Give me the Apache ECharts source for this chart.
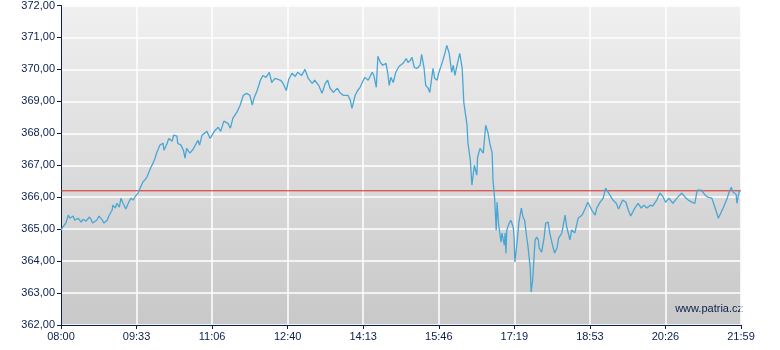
<!DOCTYPE html>
<html>
<head>
<meta charset="utf-8">
<script src="https://cdn.jsdelivr.net/npm/echarts@6/dist/echarts.min.js"></script>
<style>html,body{margin:0;padding:0;background:#fff}#c{width:780px;height:350px}</style>
</head>
<body>
<div id="c"></div>
<script>
// minutes after 08:00
var minutes = [0,2,6,9,11,15,17,21,25,27,31,35,37,39,44,47,51,53,57,59,63,64,67,69,72,74,76,80,83,86,89,91,95,97,101,104,106,110,114,116,118,122,126,127,131,133,137,139,143,144,148,151,153,155,159,163,165,169,171,174,180,184,186,190,194,197,201,206,209,212,217,221,225,229,233,236,238,242,246,249,253,257,260,264,271,274,278,281,285,289,292,297,301,305,310,313,318,322,326,329,332,336,341,344,
348,350,354,357,359,363,366,369,373,375,379,381,384,386,389,391,394,397,401,403,405,407,410,413,417,422,426,428,431,433,436,439,443,445,448,450,453,455,459,461,464,466,470,473,476,479,482,484,486,490,492,495,497,501,502,505,507,510,513,514,517,519,521,524,527,529,532,533,535,537,538,540,543,544,547,548,549,550,553,555,558,559,560,563,565,568,570,572,575,576,579,580,582,584,585,587,589,590,593,596,598,601,603,607,609,612,614,618,622,624,628,630,634,638,643,647,650,655,659,661,665,669,672,675,677,681,685,688,693,697,700,703,708,712,716,719,723,727,730,735,739,743,746,750,755,760,766,770,774,779,782,785,790,795,798,803,806,808,811,814,817,822,824,827,829,833,834,837,838];
var prices = [364.97,365.06,365.19,365.44,365.34,365.41,365.28,365.34,365.22,365.31,365.25,365.38,365.31,365.19,365.28,365.41,365.28,365.19,365.28,365.41,365.59,365.75,365.66,365.81,365.69,365.97,365.84,365.63,365.81,365.97,365.91,366.00,366.13,366.25,366.47,366.56,366.63,366.88,367.09,367.22,367.38,367.63,367.69,367.47,367.69,367.84,367.75,367.94,367.91,367.69,367.63,367.47,367.22,367.53,367.38,367.50,367.56,367.78,367.63,367.94,368.06,367.84,367.88,368.09,368.19,368.06,368.38,368.31,368.16,368.47,368.66,368.88,369.19,369.25,369.19,368.88,369.09,369.34,369.66,369.81,369.75,369.91,369.59,369.72,369.66,369.56,369.34,369.69,369.88,369.78,369.91,369.81,370.00,369.72,369.56,369.66,369.50,369.25,369.56,369.66,369.41,369.28,369.41,369.28,
369.19,369.13,369.19,369.03,368.78,369.19,369.34,369.44,369.66,369.75,369.66,369.72,369.91,369.81,369.44,370.41,370.22,370.13,370.19,369.91,369.50,369.75,369.59,369.91,370.09,370.19,370.34,370.22,370.28,370.38,370.06,370.03,370.13,370.47,370.03,369.50,369.41,369.28,370.03,369.72,369.66,369.88,370.19,370.44,370.75,370.50,369.91,370.13,369.81,370.28,370.50,370.03,368.97,368.25,367.72,367.16,366.38,367.00,366.69,367.25,367.53,367.56,367.38,368.25,368.00,367.69,367.38,366.53,365.97,364.97,365.84,365.13,364.59,364.88,364.50,364.88,364.25,364.97,365.19,365.28,365.06,364.75,363.97,364.66,365.22,365.66,365.38,365.28,364.66,364.50,363.78,363.03,363.41,364.28,364.66,364.75,364.66,364.41,364.28,364.72,365.19,365.22,364.88,364.44,364.25,364.41,364.72,364.88,365.44,365.06,364.66,364.97,364.88,365.34,365.44,365.66,365.84,365.59,365.44,365.66,365.84,365.97,366.28,366.16,366.22,365.91,365.81,365.63,365.91,365.84,365.59,365.41,365.66,365.81,365.66,365.75,365.66,365.75,365.72,365.91,366.13,366.00,365.84,365.97,365.81,365.97,366.13,366.00,365.91,365.84,365.81,366.22,366.22,366.06,366.00,365.97,365.75,365.59,365.34,365.50,365.66,365.97,366.13,366.31,366.16,366.09,365.81,366.22,366.19];
var referenceLevel = 366.2;
var xTickLabels = ['08:00','09:33','11:06','12:40','14:13','15:46','17:19','18:53','20:26','21:59'];
var yMin = 362, yMax = 372;
var sessionMinutes = 839;

var data = minutes.map(function(m, i){ return [m, prices[i]]; });
var levelData = [[0, referenceLevel], [sessionMinutes, referenceLevel]];
var navy = '#0b1f4d';
var red = '#dc2626';
var chart = echarts.init(document.getElementById('c'), null, {renderer:'canvas'});
chart.setOption({
  animation: false,
  grid: {
    left: 61, top: 5, right: 39, bottom: 25, show: true, borderWidth: 0,
    backgroundColor: new echarts.graphic.LinearGradient(0,0,0,1,[
      {offset:0, color:'#f0f0f0'},{offset:1, color:'#c8c8c8'}])
  },
  xAxis: {
    type: 'value', min: 0, max: sessionMinutes, interval: sessionMinutes/9,
    axisLine: {show: true, onZero: false, lineStyle: {color: navy, width: 1}},
    axisTick: {show: true, length: 4, lineStyle: {color: navy}},
    axisLabel: {
      color: navy, fontFamily: 'Liberation Sans, Arial, sans-serif', fontSize: 11, margin: 6,
      showMinLabel: true, showMaxLabel: true,
      formatter: function(v){ var idx = Math.round(v/(sessionMinutes/9)); return xTickLabels[idx] || ''; }
    },
    splitLine: {show: true, lineStyle: {color: '#ffffff', width: 1.5}}
  },
  yAxis: {
    type: 'value', min: yMin, max: yMax, interval: 1,
    axisLine: {show: true, lineStyle: {color: navy, width: 1}},
    axisTick: {show: true, length: 4, lineStyle: {color: navy}},
    axisLabel: {
      color: navy, fontFamily: 'Liberation Sans, Arial, sans-serif', fontSize: 11, margin: 6,
      formatter: function(v){ return v.toFixed(2).replace('.', ','); }
    },
    splitLine: {show: true, lineStyle: {color: '#ffffff', width: 1.5}}
  },
  series: [{
    type: 'line', data: levelData, showSymbol: false, symbol: 'none', silent: true,
    itemStyle: {color: red},
    lineStyle: {color: red, width: 1},
    z: 2
  }, {
    type: 'line', data: data, showSymbol: false, symbol: 'none',
    itemStyle: {color: '#48a6d6'},
    lineStyle: {color: '#48a6d6', width: 1.3},
    z: 3
  }],
  graphic: [{
    type: 'text', right: 37, top: 303,
    style: {text: 'www.patria.cz', fill: navy, font: '11px "Liberation Sans", Arial, sans-serif'}
  }]
});
</script>
</body>
</html>
